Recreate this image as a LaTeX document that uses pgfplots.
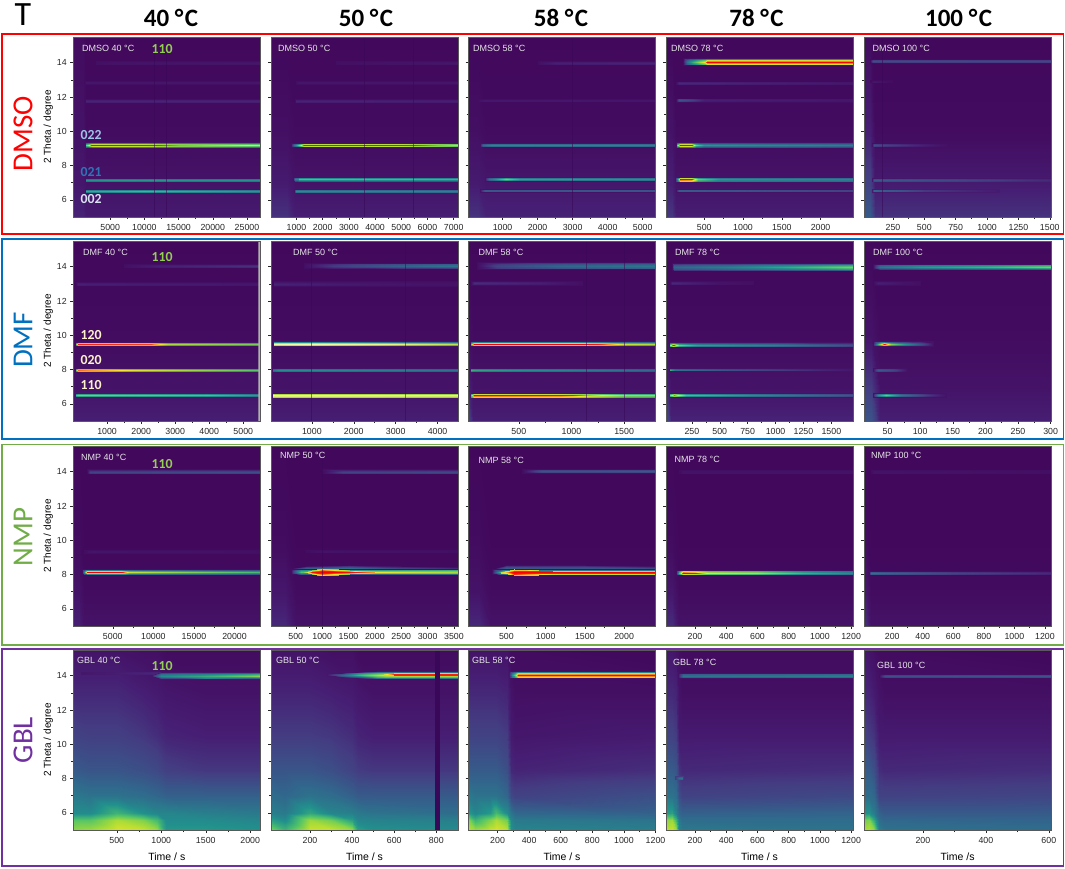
\documentclass[border=0pt]{standalone}
\usepackage{fontspec}
\setmainfont{Liberation Sans}
\newfontfamily\crl{Carlito}
\usepackage{pgfplots}
\pgfplotsset{compat=1.18}
\definecolor{fr}{RGB}{255,0,0}
\definecolor{fb}{RGB}{0,112,192}
\definecolor{fg}{RGB}{112,173,71}
\definecolor{fp}{RGB}{112,48,160}
\definecolor{lg}{RGB}{146,208,80}
\definecolor{lb}{RGB}{157,195,230}
\definecolor{mb}{RGB}{46,117,182}
\definecolor{lv}{RGB}{218,227,243}
\definecolor{cr}{RGB}{255,242,204}
\definecolor{gap}{RGB}{58,8,88}
\pgfplotsset{
 colormap={main}{[1pt] rgb255(0pt)=(66,8,92) rgb255(6pt)=(70,30,115) rgb255(12pt)=(68,60,130) rgb255(25pt)=(50,100,140) rgb255(40pt)=(33,145,140) rgb255(55pt)=(80,195,105) rgb255(68pt)=(170,220,55) rgb255(78pt)=(245,230,40) rgb255(86pt)=(250,140,20) rgb255(92pt)=(250,30,10) rgb255(100pt)=(250,0,0)},
 colormap={pale}{[1pt] rgb255(0pt)=(66,8,92) rgb255(12pt)=(68,60,130) rgb255(25pt)=(50,100,140) rgb255(40pt)=(33,145,140) rgb255(55pt)=(80,195,105) rgb255(68pt)=(170,220,55) rgb255(85pt)=(235,245,130) rgb255(100pt)=(245,250,165)},
 st/.style={surf,shader=interp,point meta=explicit,forget plot},
 pan/.style={scale only axis,width=187pt,height=180pt,anchor=south west,
  ymin=5,ymax=15.5,ytick={6,8,10,12,14},minor y tick num=1,minor x tick num=1,
  xtick pos=bottom,ytick pos=left,tick align=outside,axis on top,
  major tick length=3pt,minor tick length=2pt,
  tick style={black!85,line width=.5pt},
  axis line style={black!65,line width=.5pt},
  colormap name=main,point meta min=0,point meta max=100,
  scaled x ticks=false,scaled y ticks=false,
  /pgf/number format/1000 sep={},/pgf/number format/assume math mode=true,
  tick label style={font=\fontsize{8.8}{10}\selectfont,text=black!85},
  xticklabel style={yshift=-1pt},
  every axis y label/.style={at={(rel axis cs:0,.5)},rotate=90,anchor=center,yshift=25pt,font=\fontsize{10}{12}\selectfont},
  every axis x label/.style={at={(rel axis cs:.5,0)},anchor=center,yshift=-27pt,font=\fontsize{10.5}{12}\selectfont},
 },
 nly/.style={yticklabels={}},
}
\newcommand\edgev{3}
\newcommand\streak[4][]{%
 \pgfmathsetmacro\ylo{#2-#3}\pgfmathsetmacro\yhi{#2+#3}%
 \pgfmathsetmacro\ylm{#2-.5*#3}\pgfmathsetmacro\yhm{#2+.5*#3}%
 \gdef\cc{}%
 \foreach \xx/\vv in {#4}{\xdef\cc{\cc (\xx,\ylo)[\edgev]}}%
 \foreach \xx/\vv in {#4}{\pgfmathsetmacro\sv{\edgev+(\vv-\edgev)*.72}\xdef\cc{\cc (\xx,\ylm)[\sv]}}%
 \foreach \xx/\vv in {#4}{\xdef\cc{\cc (\xx,#2)[\vv]}}%
 \foreach \xx/\vv in {#4}{\pgfmathsetmacro\sv{\edgev+(\vv-\edgev)*.72}\xdef\cc{\cc (\xx,\yhm)[\sv]}}%
 \foreach \xx/\vv in {#4}{\xdef\cc{\cc (\xx,\yhi)[\edgev]}}%
 \edef\tmp{\noexpand\addplot[st,mesh/rows=5,#1] coordinates {\cc};}\tmp}
\newcommand\wdg[2]{%
 \gdef\cc{}%
 \foreach \xx/\vv/\dd in {#2}{\pgfmathsetmacro\yy{#1-\dd}\xdef\cc{\cc (\xx,\yy)[\edgev]}}%
 \foreach \xx/\vv/\dd in {#2}{\pgfmathsetmacro\yy{#1-.5*\dd}\pgfmathsetmacro\sv{\edgev+(\vv-\edgev)*.72}\xdef\cc{\cc (\xx,\yy)[\sv]}}%
 \foreach \xx/\vv/\dd in {#2}{\xdef\cc{\cc (\xx,#1)[\vv]}}%
 \foreach \xx/\vv/\dd in {#2}{\pgfmathsetmacro\yy{#1+.5*\dd}\pgfmathsetmacro\sv{\edgev+(\vv-\edgev)*.72}\xdef\cc{\cc (\xx,\yy)[\sv]}}%
 \foreach \xx/\vv/\dd in {#2}{\pgfmathsetmacro\yy{#1+\dd}\xdef\cc{\cc (\xx,\yy)[\edgev]}}%
 \edef\tmp{\noexpand\addplot[st,mesh/rows=5] coordinates {\cc};}\tmp}
\newcommand\bg[9]{%
 \addplot[st,mesh/rows=4] coordinates {
 (\xa,5)[#3] (#1,5)[#3] (#2,5)[#6] (\xb,5)[#6]
 (\xa,7)[#4] (#1,7)[#4] (#2,7)[#7] (\xb,7)[#7]
 (\xa,10)[#5] (#1,10)[#5] (#2,10)[#8] (\xb,10)[#8]
 (\xa,15.5)[#9] (#1,15.5)[#9] (#2,15.5)[0] (\xb,15.5)[0]};}
\newcommand\vl[2][.6pt]{\addplot[draw=gap,line width=#1,opacity=.55,forget plot] coordinates {(#2,5)(#2,15.5)};}
\newcommand\vb[2][4.5pt]{\addplot[draw=gap,line width=#1,forget plot] coordinates {(#2,5)(#2,15.5)};}
\def\cA{73.3pt}\def\cB{271pt}\def\cC{468.5pt}\def\cD{666pt}\def\cE{864pt}
\def\rA{651pt}\def\rB{447pt}\def\rC{242pt}\def\rD{38pt}
\begin{document}
\begin{tikzpicture}[x=1pt,y=1pt]
\path[use as bounding box,fill=white] (0,0) rectangle (1065,868);
% ---------- DMSO
\renewcommand\edgev{2}
\def\xa{-390}\def\xb{26950}
\begin{axis}[pan,at={(\cA,\rA)},xmin=\xa,xmax=\xb,xtick={5000,10000,15000,20000,25000},ylabel={2 Theta / degree}]
\bg{1100}{1500}{7}{4}{3}{5}{3}{1}{1}
\streak{14.0}{.1}{3000/2,6000/3,26950/4}
\streak{12.85}{.1}{1300/2,1500/4,26950/4}
\streak{11.78}{.11}{1300/2,1500/7,26950/7}
\renewcommand\edgev{3}
\streak{9.2}{.16}{1300/3,1500/60,1900/78,2300/98,10000/96,15000/86,25000/78,26950/76}
\streak{7.18}{.12}{1300/3,1500/40,5000/42,26950/40}
\streak{6.53}{.11}{1300/3,1500/48,10000/52,26950/42}
\renewcommand\edgev{2}
\vl[.4pt]{11500}\vl[.4pt]{13200}
\end{axis}
\def\xa{27}\def\xb{7166}
\begin{axis}[pan,nly,at={(\cB,\rA)},xmin=\xa,xmax=\xb,xtick={1000,2000,3000,4000,5000,6000,7000}]
\bg{650}{950}{10}{5}{2}{6}{3}{1}{0}
\streak{14.0}{.1}{2500/2,7166/4}
\streak{12.85}{.1}{1000/2,1100/4,7166/4}
\streak{11.78}{.1}{950/2,1000/7,7166/6}
\renewcommand\edgev{3}
\streak{9.2}{.14}{800/3,900/30,1000/42,1150/70,1300/96,5000/96,7166/80}
\streak{7.2}{.13}{850/3,950/35,1050/40,1100/55,7166/50}
\streak{6.53}{.11}{900/3,1000/40,7166/36}
\renewcommand\edgev{2}
\vl[.5pt]{3600}\vl[.5pt]{5450}
\end{axis}
\def\xa{28}\def\xb{5365}
\begin{axis}[pan,nly,at={(\cC,\rA)},xmin=\xa,xmax=\xb,xtick={1000,2000,3000,4000,5000}]
\bg{300}{520}{10}{5}{2}{7}{4}{1}{0}
\streak{14.0}{.1}{2000/2,2500/6,5365/7}
\streak{11.8}{.09}{300/2,500/5,5365/4}
\renewcommand\edgev{3}
\streak{9.2}{.11}{350/3,450/28,700/38,5365/36}
\streak{7.2}{.12}{500/3,600/30,800/42,1100/62,1500/45,5365/40}
\streak{6.55}{.1}{350/3,500/28,5365/26}
\renewcommand\edgev{2}
\vl[.5pt]{3000}
\end{axis}
\def\xa{7}\def\xb{2418}
\begin{axis}[pan,nly,at={(\cD,\rA)},xmin=\xa,xmax=\xb,xtick={500,1000,1500,2000}]
\bg{90}{140}{11}{6}{3}{6}{3}{1}{0}
\streak{14.05}{.2}{230/2,280/30,350/50,450/68,510/80,530/100,2418/100}
\streak{12.8}{.1}{130/2,180/8,2418/4}
\streak{11.8}{.11}{130/2,180/20,350/13,500/6,2418/4}
\renewcommand\edgev{3}
\streak{9.2}{.15}{130/3,150/60,190/100,330/100,400/60,500/42,2418/34}
\streak{7.2}{.15}{120/3,170/70,190/100,330/98,420/60,700/42,2418/36}
\streak{6.55}{.1}{130/3,170/30,500/28,2418/18}
\renewcommand\edgev{2}
\end{axis}
\def\xa{19}\def\xb{1510}
\begin{axis}[pan,nly,at={(\cE,\rA)},xmin=\xa,xmax=\xb,xtick={250,500,750,1000,1250,1500}]
\bg{70}{110}{22}{14}{6}{10}{5}{1}{1}
\renewcommand\edgev{1}
\streak{14.1}{.12}{70/1,90/18,180/17,1510/16}
\streak{12.9}{.08}{70/1,100/4,250/1}
\renewcommand\edgev{2}
\streak{9.2}{.09}{80/3,100/18,150/15,500/6,700/2}
\renewcommand\edgev{4}
\streak{7.15}{.1}{80/4,100/22,1510/8}
\renewcommand\edgev{5}
\streak{6.55}{.1}{80/5,100/34,150/30,300/26,500/14,1100/5}
\renewcommand\edgev{2}
\vl[1pt]{163}
\end{axis}
% ---------- DMF
\def\xa{7}\def\xb{5500}
\begin{axis}[pan,at={(\cA,\rB)},xmin=\xa,xmax=\xb,xtick={1000,2000,3000,4000,5000},ylabel={2 Theta / degree}]
\bg{70}{150}{6}{3}{1}{6}{3}{1}{0}
\streak{14.05}{.11}{1500/2,2500/6,5500/10}
\streak{13.0}{.09}{100/2,150/6,5500/4}
\renewcommand\edgev{3}
\streak{9.5}{.12}{100/60,150/92,2300/90,2800/68,5500/60}
\streak{8.0}{.11}{100/60,150/88,1800/75,5500/55}
\streak{6.5}{.1}{100/55,150/62,4000/55,5500/42}
\renewcommand\edgev{2}
\addplot[draw=none,fill=black!30,forget plot] coordinates {(5445,5)(5500,5)(5500,15.5)(5445,15.5)} \closedcycle;
\end{axis}
\def\xa{24}\def\xb{4488}
\begin{axis}[pan,nly,at={(\cB,\rB)},xmin=\xa,xmax=\xb,xtick={1000,2000,3000,4000}]
\bg{70}{150}{6}{3}{1}{6}{3}{1}{0}
\streak{14.05}{.16}{800/2,1500/12,3200/25,4488/32}
\streak{13.0}{.14}{100/7,800/6,2500/4,4488/3}
\renewcommand\edgev{3}
\streak[colormap name=pale]{9.5}{.15}{70/3,90/100,1000/100,2000/92,4488/72}
\streak{8.0}{.12}{70/30,200/40,4488/30}
\streak[colormap name=pale]{6.5}{.15}{70/95,4488/90}
\renewcommand\edgev{2}
\vl[.5pt]{976}\vl[.5pt]{3240}
\end{axis}
\def\xa{22}\def\xb{1798}
\begin{axis}[pan,nly,at={(\cC,\rB)},xmin=\xa,xmax=\xb,xtick={500,1000,1500}]
\bg{30}{60}{14}{6}{2}{6}{3}{1}{0}
\streak{14.05}{.2}{100/2,300/15,900/26,1798/32}
\streak{13.05}{.14}{50/2,70/9,700/6,1100/2}
\renewcommand\edgev{3}
\streak{9.5}{.15}{50/60,70/100,1100/98,1300/90,1500/72,1798/68}
\streak{8.0}{.11}{50/50,80/45,1798/26}
\streak{6.5}{.15}{50/60,70/100,900/98,1200/82,1500/68,1798/66}
\renewcommand\edgev{2}
\vl[1pt]{1141}\vl[1pt]{1505}
\end{axis}
\def\xa{18}\def\xb{1694}
\begin{axis}[pan,nly,at={(\cD,\rB)},xmin=\xa,xmax=\xb,xtick={250,500,750,1000,1250,1500}]
\bg{40}{60}{14}{6}{2}{7}{3}{1}{0}
\streak{14.0}{.23}{70/2,90/26,600/35,1200/50,1694/62}
\streak{13.05}{.11}{50/2,70/8,500/3,800/2}
\renewcommand\edgev{3}
\streak{9.45}{.13}{50/70,80/98,130/62,300/45,1000/35,1694/18}
\streak{8.0}{.1}{50/50,100/30,600/18,1200/10,1694/4}
\streak{6.5}{.12}{50/65,90/88,200/55,800/40,1694/20}
\renewcommand\edgev{2}
\end{axis}
\def\xa{14}\def\xb{300.5}
\begin{axis}[pan,nly,at={(\cE,\rB)},xmin=\xa,xmax=\xb,xtick={50,100,150,200,250,300}]
\bg{24}{38}{20}{12}{3}{6}{3}{1}{0}
\streak{14.0}{.17}{28/2,38/30,100/42,200/50,300.5/62}
\streak{13.05}{.12}{30/2,35/6,80/3,100/2}
\renewcommand\edgev{3}
\streak{9.5}{.15}{28/3,35/50,45/96,55/62,75/42,100/20,120/3}
\streak{8.0}{.11}{28/3,35/22,60/15,80/3}
\streak{6.5}{.12}{28/3,35/40,48/60,70/32,110/12,140/3}
\renewcommand\edgev{2}
\end{axis}
% ---------- NMP
\def\xa{138}\def\xb{23172}
\begin{axis}[pan,at={(\cA,\rC)},xmin=\xa,xmax=\xb,xtick={5000,10000,15000,20000},ylabel={2 Theta / degree}]
\bg{900}{1500}{6}{3}{1}{3}{1}{0}{0}
\streak{14.0}{.13}{1800/1,2200/14,23172/18}
\streak{9.35}{.1}{1500/1,2500/4,23172/2}
\streak{8.15}{.16}{1200/2,1500/40,1800/100,6000/98,7000/72,13000/64,23172/52}
\end{axis}
\def\xa{30}\def\xb{3576}
\begin{axis}[pan,nly,at={(\cB,\rC)},xmin=\xa,xmax=\xb,xtick={500,1000,1500,2000,2500,3000,3500}]
\bg{300}{500}{8}{4}{1}{3}{1}{0}{0}
\streak{14.0}{.13}{1000/1,1400/14,3576/16}
\streak{9.35}{.08}{700/1,1000/3,3576/2}
\wdg{8.27}{450/2/.1,700/30/.25,1500/38/.28,2500/18/.25,3576/10/.2}
\streak{8.17}{.18}{400/2,600/55,3576/68}
\renewcommand\edgev{60}
\wdg{8.15}{650/60/.02,800/95/.12,1000/100/.22,1300/100/.16,1500/96/.1,2000/84/.05,3576/70/.03}
\renewcommand\edgev{2}
\vl[.4pt]{1000}
\end{axis}
\def\xa{17}\def\xb{2400}
\begin{axis}[pan,nly,at={(\cC,\rC)},xmin=\xa,xmax=\xb,xtick={500,1000,1500,2000}]
\bg{150}{300}{8}{3}{1}{3}{1}{0}{0}
\streak{14.05}{.13}{700/1,950/20,1500/20,2400/22}
\wdg{8.3}{320/2/.05,500/25/.26,800/22/.28,1500/22/.24,2400/20/.2}
\streak{8.15}{.15}{320/2,420/50,500/88,2400/88}
\renewcommand\edgev{70}
\wdg{8.13}{430/70/.02,600/100/.17,900/100/.13,1100/100/.1,2400/100/.08}
\renewcommand\edgev{2}
\end{axis}
\def\xa{14}\def\xb{1212}
\begin{axis}[pan,nly,at={(\cD,\rC)},xmin=\xa,xmax=\xb,xtick={200,400,600,800,1000,1200}]
\bg{50}{100}{9}{4}{1}{3}{1}{0}{0}
\streak{14.0}{.12}{100/1,120/3,1212/3}
\streak{8.12}{.15}{80/2,95/55,120/100,200/94,280/76,600/70,900/50,1212/38}
\end{axis}
\def\xa{15}\def\xb{1240}
\begin{axis}[pan,nly,at={(\cE,\rC)},xmin=\xa,xmax=\xb,xtick={200,400,600,800,1000,1200}]
\bg{30}{60}{9}{4}{1}{3}{1}{0}{0}
\streak{14.0}{.12}{60/1,80/3,1240/2}
\streak{8.1}{.12}{50/2,60/30,200/25,600/15,1240/8}
\end{axis}
% ---------- GBL
\def\xa{11}\def\xb{2113}
\begin{axis}[pan,at={(\cA,\rD)},xmin=\xa,xmax=\xb,xtick={500,1000,1500,2000},ylabel={2 Theta / degree},xlabel={Time / s}]
\addplot[st,mesh/rows=8] coordinates {
(11,5)[64] (200,5)[66] (500,5)[74] (800,5)[72] (950,5)[66] (1050,5)[42] (1500,5)[42] (2113,5)[40]
(11,5.6)[56] (200,5.6)[56] (500,5.6)[68] (800,5.6)[62] (950,5.6)[52] (1050,5.6)[38] (1500,5.6)[38] (2113,5.6)[36]
(11,6)[38] (200,6)[38] (500,6)[50] (800,6)[40] (950,6)[36] (1050,6)[36] (1500,6)[34] (2113,6)[32]
(11,7)[32] (200,7)[30] (500,7)[30] (800,7)[28] (950,7)[26] (1050,7)[24] (1500,7)[24] (2113,7)[24]
(11,8.5)[22] (200,8.5)[20] (500,8.5)[20] (800,8.5)[18] (950,8.5)[16] (1050,8.5)[13] (1500,8.5)[11] (2113,8.5)[11]
(11,10.5)[14] (200,10.5)[13] (500,10.5)[13] (800,10.5)[11] (950,10.5)[9] (1050,10.5)[7] (1500,10.5)[6] (2113,10.5)[6]
(11,13)[8] (200,13)[8] (500,13)[8] (800,13)[6] (950,13)[5] (1050,13)[4] (1500,13)[3] (2113,13)[3]
(11,15.5)[3] (200,15.5)[3] (500,15.5)[3] (800,15.5)[2] (950,15.5)[2] (1050,15.5)[1] (1500,15.5)[1] (2113,15.5)[1]};
\renewcommand\edgev{4}
\streak{14.15}{.09}{100/4,1000/8,1050/4}
\wdg{14.0}{900/4/.05,1000/38/.2,1500/48/.22,2000/60/.2,2113/64/.2}
\renewcommand\edgev{2}
\end{axis}
\def\xa{15}\def\xb{903}
\begin{axis}[pan,nly,at={(\cB,\rD)},xmin=\xa,xmax=\xb,xtick={200,400,600,800},xlabel={Time / s}]
\addplot[st,mesh/rows=8] coordinates {
(15,5)[62] (80,5)[50] (200,5)[72] (300,5)[72] (400,5)[66] (430,5)[44] (500,5)[40] (903,5)[38]
(15,5.6)[44] (80,5.6)[38] (200,5.6)[66] (300,5.6)[60] (400,5.6)[44] (430,5.6)[36] (500,5.6)[35] (903,5.6)[34]
(15,6)[34] (80,6)[32] (200,6)[46] (300,6)[36] (400,6)[34] (430,6)[32] (500,6)[30] (903,6)[28]
(15,7)[28] (80,7)[26] (200,7)[30] (300,7)[28] (400,7)[24] (430,7)[22] (500,7)[22] (903,7)[22]
(15,8.5)[20] (80,8.5)[20] (200,8.5)[20] (300,8.5)[18] (400,8.5)[14] (430,8.5)[12] (500,8.5)[11] (903,8.5)[11]
(15,10.5)[12] (80,10.5)[12] (200,10.5)[12] (300,10.5)[11] (400,10.5)[9] (430,10.5)[7] (500,10.5)[6] (903,10.5)[6]
(15,13)[7] (80,13)[7] (200,13)[7] (300,13)[6] (400,13)[5] (430,13)[4] (500,13)[3] (903,13)[3]
(15,15.5)[3] (80,15.5)[3] (200,15.5)[3] (300,15.5)[2] (400,15.5)[2] (430,15.5)[1] (500,15.5)[1] (903,15.5)[1]};
\renewcommand\edgev{4}
\wdg{14.05}{280/4/.05,350/25/.13,430/50/.18,520/68/.22,560/76/.24,903/76/.22}
\renewcommand\edgev{72}
\wdg{14.08}{550/72/.01,600/100/.06,903/100/.06}
\renewcommand\edgev{2}
\vb{805}
\end{axis}
\def\xa{16}\def\xb{1200}
\begin{axis}[pan,nly,at={(\cC,\rD)},xmin=\xa,xmax=\xb,xtick={200,400,600,800,1000,1200},xlabel={Time / s}]
\addplot[st,mesh/rows=8] coordinates {
(16,5)[70] (60,5)[66] (150,5)[72] (190,5)[74] (260,5)[70] (285,5)[40] (310,5)[36] (1200,5)[34]
(16,5.6)[62] (60,5.6)[50] (150,5.6)[62] (190,5.6)[68] (260,5.6)[60] (285,5.6)[36] (310,5.6)[32] (1200,5.6)[30]
(16,6)[42] (60,6)[36] (150,6)[42] (190,6)[52] (260,6)[38] (285,6)[30] (310,6)[26] (1200,6)[24]
(16,7)[32] (60,7)[30] (150,7)[30] (190,7)[30] (260,7)[26] (285,7)[16] (310,7)[14] (1200,7)[18]
(16,8.5)[22] (60,8.5)[22] (150,8.5)[22] (190,8.5)[22] (260,8.5)[18] (285,8.5)[8] (310,8.5)[7] (1200,8.5)[9]
(16,10.5)[14] (60,10.5)[14] (150,10.5)[14] (190,10.5)[14] (260,10.5)[12] (285,10.5)[5] (310,10.5)[4] (1200,10.5)[5]
(16,13)[8] (60,13)[8] (150,13)[8] (190,13)[8] (260,13)[7] (285,13)[3] (310,13)[2] (1200,13)[2]
(16,15.5)[3] (60,15.5)[3] (150,15.5)[3] (190,15.5)[3] (260,15.5)[3] (285,15.5)[1] (310,15.5)[1] (1200,15.5)[0]};
\renewcommand\edgev{3}
\streak{14.05}{.2}{270/5,290/40,310/62,330/98,1200/100}
\renewcommand\edgev{2}
\end{axis}
\def\xa{14}\def\xb{1212}
\begin{axis}[pan,nly,at={(\cD,\rD)},xmin=\xa,xmax=\xb,xtick={200,400,600,800,1000,1200},xlabel={Time / s}]
\addplot[st,mesh/rows=8] coordinates {
(14,5)[70] (50,5)[72] (80,5)[66] (100,5)[36] (115,5)[32] (1212,5)[30]
(14,5.6)[64] (50,5.6)[66] (80,5.6)[50] (100,5.6)[32] (115,5.6)[28] (1212,5.6)[28]
(14,6)[42] (50,6)[44] (80,6)[34] (100,6)[26] (115,6)[24] (1212,6)[25]
(14,7)[30] (50,7)[30] (80,7)[28] (100,7)[18] (115,7)[14] (1212,7)[16]
(14,8.5)[22] (50,8.5)[22] (80,8.5)[20] (100,8.5)[10] (115,8.5)[8] (1212,8.5)[9]
(14,10.5)[14] (50,10.5)[14] (80,10.5)[12] (100,10.5)[5] (115,10.5)[5] (1212,10.5)[5]
(14,13)[8] (50,13)[8] (80,13)[7] (100,13)[3] (115,13)[2] (1212,13)[2]
(14,15.5)[4] (50,15.5)[4] (80,15.5)[3] (100,15.5)[2] (115,15.5)[1] (1212,15.5)[1]};
\renewcommand\edgev{3}
\streak{14.0}{.16}{90/3,120/30,1212/34}
\renewcommand\edgev{12}
\streak{8.05}{.12}{70/12,100/28,115/30,125/12}
\renewcommand\edgev{2}
\end{axis}
\def\xa{13}\def\xb{607}
\begin{axis}[pan,nly,at={(\cE,\rD)},xmin=\xa,xmax=\xb,xtick={200,400,600},xlabel={Time /s}]
\addplot[st,mesh/rows=8] coordinates {
(13,5)[68] (30,5)[70] (45,5)[64] (60,5)[34] (75,5)[30] (607,5)[28]
(13,5.6)[60] (30,5.6)[62] (45,5.6)[46] (60,5.6)[28] (75,5.6)[26] (607,5.6)[25]
(13,6)[40] (30,6)[40] (45,6)[32] (60,6)[24] (75,6)[22] (607,6)[22]
(13,7)[28] (30,7)[28] (45,7)[26] (60,7)[14] (75,7)[14] (607,7)[15]
(13,8.5)[22] (30,8.5)[22] (45,8.5)[18] (60,8.5)[9] (75,8.5)[8] (607,8.5)[9]
(13,10.5)[14] (30,10.5)[12] (45,10.5)[10] (60,10.5)[5] (75,10.5)[5] (607,10.5)[5]
(13,13)[8] (30,13)[7] (45,13)[5] (60,13)[3] (75,13)[2] (607,13)[2]
(13,15.5)[4] (30,15.5)[3] (45,15.5)[2] (60,15.5)[1] (75,15.5)[1] (607,15.5)[0]};
\renewcommand\edgev{2}
\streak{14.0}{.1}{60/2,80/18,607/20}
\end{axis}
% ---------- frames
\draw[fr,line width=1.6pt] (2,634) rectangle (1063.5,834);
\draw[fb,line width=1.6pt] (2,429) rectangle (1063.5,629);
\draw[fg,line width=1.6pt] (2,223.3) rectangle (1063.5,423.3);
\draw[fp,line width=1.6pt] (2,2) rectangle (1063.5,219);
% ---------- headers
\node[font=\crl\fontsize{34}{36}\selectfont,inner sep=0] at (23,853) {T};
\foreach \x/\t in {171/40,366/50,561/58,756.5/78,958.6/100}
 \node[font=\crl\bfseries\fontsize{25}{28}\selectfont,inner sep=0] at (\x,850) {\t\ °\kern1.5pt C};
\node[rotate=90,text=fr,font=\crl\fontsize{29}{30}\selectfont,inner sep=0] at (23,734) {DMSO};
\node[rotate=90,text=fb,font=\crl\fontsize{29}{30}\selectfont,inner sep=0] at (23,528) {DMF};
\node[rotate=90,text=fg,font=\crl\fontsize{29}{30}\selectfont,inner sep=0] at (23,331) {NMP};
\node[rotate=90,text=fp,font=\crl\fontsize{29}{30}\selectfont,inner sep=0] at (23,128) {GBL};
% ---------- panel labels
\foreach \x/\y/\t in {82/820/DMSO 40,278/820/DMSO 50,473/820/DMSO 58,671/820/DMSO 78,872.5/820/DMSO 100,
 83/616/DMF 40,293/616/DMF 50,478.5/616/DMF 58,675/616/DMF 78,873/616/DMF 100,
 81/411/NMP 40,280/413/NMP 50,478.5/408/NMP 58,674.5/409/NMP 78,871/413/NMP 100,
 77/208/GBL 40,276/208/GBL 50,472/208/GBL 58,673/206/GBL 78,877/203/GBL 100}
 \node[anchor=west,inner sep=0,text=black!10,font=\fontsize{9}{10}\selectfont] at (\x,\y) {\t\ °C};
% ---------- reflections
\foreach \x/\y/\t/\c in {162/819/110/lg,91/733/022/lb,91/696/021/mb,91/669/002/lv,
 162/611/110/lg,91/533/120/cr,91/508/020/cr,91/483/110/cr,162/404/110/lg,162/202/110/lg}
 \node[inner sep=0,text=\c,font=\crl\bfseries\fontsize{13.8}{15}\selectfont] at (\x,\y) {\t};
\end{tikzpicture}
\end{document}
